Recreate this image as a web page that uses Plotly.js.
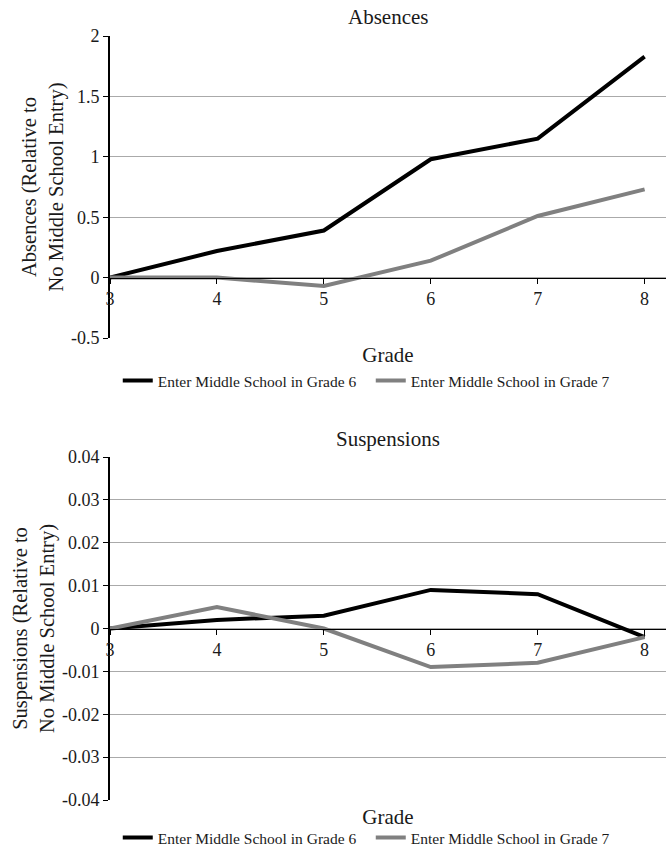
<!DOCTYPE html>
<html>
<head>
<meta charset="utf-8">
<script src="https://cdn.plot.ly/plotly-3.0.1.min.js"></script>
<style>html,body{margin:0;padding:0;background:#fff}#chart{width:666px;height:855px}</style>
</head>
<body>
<div id="chart"></div>
<script>
// ---- data ----
const grades = [3, 4, 5, 6, 7, 8];
const seriesNames = ['Enter Middle School in Grade 6', 'Enter Middle School in Grade 7'];
const absencesGrade6 = [0, 0.22, 0.39, 0.98, 1.15, 1.83];
const absencesGrade7 = [0, 0.0, -0.07, 0.14, 0.51, 0.73];
const suspensionsGrade6 = [0, 0.002, 0.003, 0.009, 0.008, -0.002];
const suspensionsGrade7 = [0, 0.005, 0.0, -0.009, -0.008, -0.002];
const absTickVals = [-0.5, 0, 0.5, 1, 1.5, 2];
const absTickText = ['-0.5', '0', '0.5', '1', '1.5', '2'];
const susTickVals = [-0.04, -0.03, -0.02, -0.01, 0, 0.01, 0.02, 0.03, 0.04];
const susTickText = ['-0.04', '-0.03', '-0.02', '-0.01', '0', '0.01', '0.02', '0.03', '0.04'];
const panelTitles = ['Absences', 'Suspensions'];
const yTitles = ['Absences (Relative to<br>No Middle School Entry)', 'Suspensions (Relative to<br>No Middle School Entry)'];
const xTitle = 'Grade';

// ---- layout constants ----
const W = 666, H = 855;
const FONT = 'Liberation Serif, Times New Roman, serif';
const TXT = '#1a1a1a';
const BLACK = '#000000', GRAY = '#808080';
const topDom = [1 - 338 / H, 1 - 36 / H];
const botDom = [1 - 800 / H, 1 - 457 / H];
const absRange = [-0.5, 2];
const susRange = [-0.04, 0.04];
const xRange = [3, 8.2];
function zeroPos(dom, rng) { return dom[0] + (dom[1] - dom[0]) * (0 - rng[0]) / (rng[1] - rng[0]); }

const LW = 4;
const traces = [
  {x: grades, y: absencesGrade6, name: seriesNames[0], mode: 'lines', line: {color: BLACK, width: LW}, xaxis: 'x', yaxis: 'y', legend: 'legend'},
  {x: grades, y: absencesGrade7, name: seriesNames[1], mode: 'lines', line: {color: GRAY, width: LW}, xaxis: 'x', yaxis: 'y', legend: 'legend'},
  {x: grades, y: suspensionsGrade6, name: seriesNames[0], mode: 'lines', line: {color: BLACK, width: LW}, xaxis: 'x2', yaxis: 'y2', legend: 'legend2'},
  {x: grades, y: suspensionsGrade7, name: seriesNames[1], mode: 'lines', line: {color: GRAY, width: LW}, xaxis: 'x2', yaxis: 'y2', legend: 'legend2'}
];

function xAxis(ydom, yrng, standoff) {
  return {
    domain: [0, 1], range: xRange, anchor: 'free', position: zeroPos(ydom, yrng),
    tickvals: grades, ticktext: grades.map(String), ticks: 'outside', ticklen: 5, tickcolor: BLACK,
    showline: true, linecolor: BLACK, linewidth: 1, showgrid: false, zeroline: false,
    tickfont: {family: FONT, size: 18, color: TXT},
    title: {text: xTitle, font: {family: FONT, size: 21, color: TXT}, standoff: standoff},
    automargin: false, fixedrange: true
  };
}
function yAxis(dom, rng, tv, tt, title) {
  return {
    domain: dom, range: rng, tickvals: tv, ticktext: tt, ticks: 'outside', ticklen: 5, tickcolor: BLACK,
    showline: true, linecolor: BLACK, linewidth: 2, showgrid: true, gridcolor: '#aaaaaa', gridwidth: 1,
    zeroline: false, tickfont: {family: FONT, size: 18, color: TXT},
    title: {text: title, font: {family: FONT, size: 20.5, color: TXT}, standoff: 2},
    automargin: false, fixedrange: true
  };
}

const legendCommon = {orientation: 'h', xanchor: 'center', xref: 'paper', yref: 'paper',
  font: {family: FONT, size: 15.5, color: TXT}, itemwidth: 30, entrywidth: 208, entrywidthmode: 'pixels',
  bgcolor: 'rgba(0,0,0,0)', tracegroupgap: 0};

const layout = {
  width: W, height: H,
  margin: {l: 110, r: 0, t: 0, b: 0},
  paper_bgcolor: '#ffffff', plot_bgcolor: '#ffffff',
  showlegend: true,
  xaxis: xAxis(topDom, absRange, 39),
  yaxis: Object.assign(yAxis(topDom, absRange, absTickVals, absTickText, yTitles[0]), {anchor: 'x'}),
  xaxis2: xAxis(botDom, susRange, 150),
  yaxis2: Object.assign(yAxis(botDom, susRange, susTickVals, susTickText, yTitles[1]), {anchor: 'x2'}),
  legend: Object.assign({}, legendCommon, {x: 0.469, y: 1 - 381 / H, yanchor: 'middle'}),
  legend2: Object.assign({}, legendCommon, {x: 0.469, y: 0, yanchor: 'bottom'}),
  annotations: [
    {text: panelTitles[0], xref: 'paper', yref: 'paper', x: 0.5, y: 1 - 17 / H, xanchor: 'center', yanchor: 'middle', showarrow: false,
     font: {family: FONT, size: 21, color: TXT}},
    {text: panelTitles[1], xref: 'paper', yref: 'paper', x: 0.5, y: 1 - 439 / H, xanchor: 'center', yanchor: 'middle', showarrow: false,
     font: {family: FONT, size: 21, color: TXT}}
  ]
};

Plotly.newPlot('chart', traces, layout, {displayModeBar: false, staticPlot: true});
</script>
</body>
</html>
